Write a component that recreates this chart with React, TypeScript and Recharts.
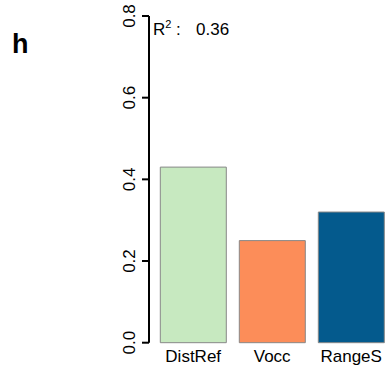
import { BarChart, Bar, XAxis, YAxis, Cell } from "recharts";

const categories = ["DistRef", "Vocc", "RangeS"];
const values = [0.43, 0.25, 0.32];
const barColors = ["#c7e9c0", "#fc8d59", "#045a8d"];
const yTicks = [0, 0.2, 0.4, 0.6, 0.8];
const r2 = "0.36";
const panel = "h";

const FONT = "'Liberation Sans', Arial, Helvetica, sans-serif";

const data = categories.map((name, i) => ({ name, value: values[i] }));

function YTick(props: any) {
  const { x, y, payload } = props;
  return (
    <text
      transform={`translate(${x - 5.5}, ${y}) rotate(-90)`}
      textAnchor="middle"
      fontFamily={FONT}
      fontSize={17}
      fill="#000"
    >
      {payload.value.toFixed(1)}
    </text>
  );
}

function XTick(props: any) {
  const { x, y, payload } = props;
  return (
    <text x={x} y={y + 19} textAnchor="middle" fontFamily={FONT} fontSize={17} fill="#000">
      {payload.value}
    </text>
  );
}

export default function App() {
  return (
    <div style={{ position: "absolute", left: 0, top: 0, width: 388, height: 380, overflow: "hidden", background: "#fff" }}>
      <BarChart
        width={400}
        height={380}
        data={data}
        margin={{ top: 16, right: 9.3, bottom: 0, left: 0 }}
        barCategoryGap={6.6}
      >
        <XAxis
          dataKey="name"
          axisLine={false}
          tickLine={false}
          tickSize={0}
          tickMargin={0}
          height={37.3}
          padding={{ left: 4.7, right: 0 }}
          tick={<XTick />}
          interval={0}
        />
        <YAxis
          domain={[0, 0.8]}
          ticks={yTicks}
          width={149}
          tickSize={7}
          tickMargin={2}
          axisLine={{ stroke: "#000", strokeWidth: 2 }}
          tickLine={{ stroke: "#000", strokeWidth: 2 }}
          tick={<YTick />}
          interval={0}
        />
        <Bar dataKey="value" stroke="#888" strokeWidth={1} isAnimationActive={false}>
          {data.map((d, i) => (
            <Cell key={d.name} fill={barColors[i]} />
          ))}
        </Bar>
      </BarChart>
      <svg width={388} height={380} style={{ position: "absolute", left: 0, top: 0, pointerEvents: "none" }}>
        <text x={12} y={53} fontFamily={FONT} fontSize={27} fontWeight="bold" fill="#000">
          {panel}
        </text>
        <text x={153} y={35} fontFamily={FONT} fontSize={17} fill="#000">
          R
          <tspan fontSize={11} dy={-7}>2</tspan>
          <tspan dy={7} x={176}>:</tspan>
          <tspan x={196}>{r2}</tspan>
        </text>
      </svg>
    </div>
  );
}
